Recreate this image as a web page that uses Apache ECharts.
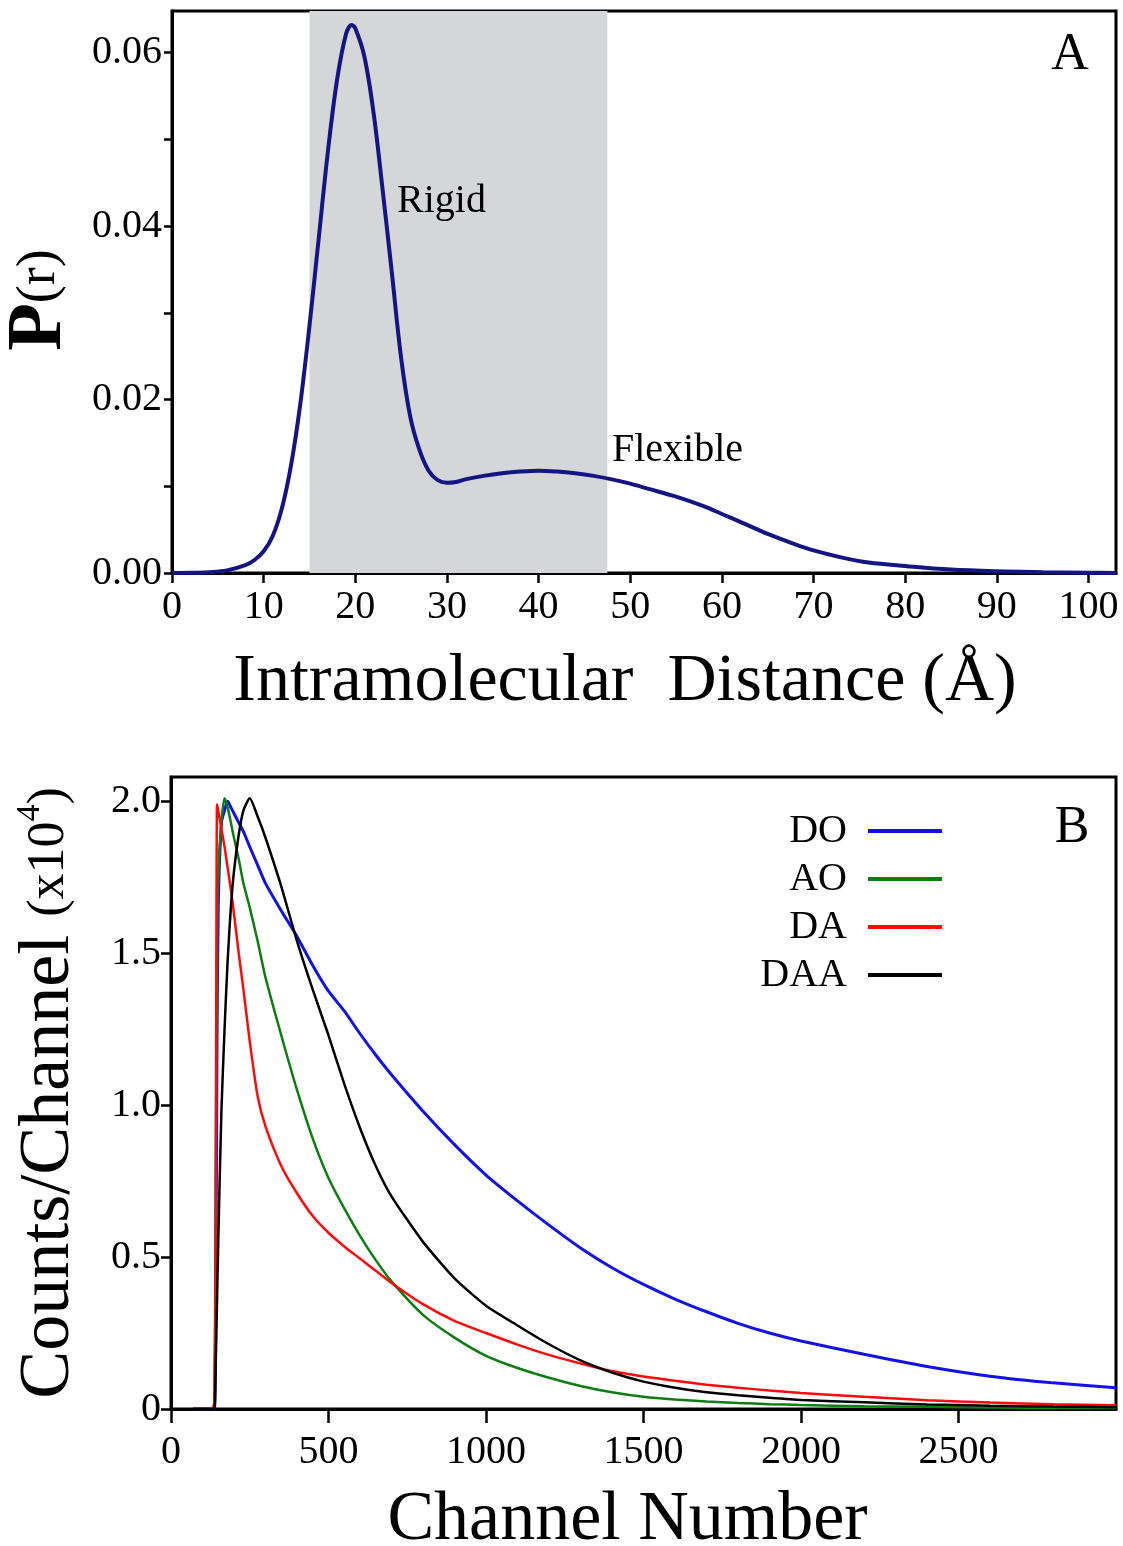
<!DOCTYPE html>
<html><head><meta charset="utf-8">
<script src="https://cdn.jsdelivr.net/npm/echarts@6/dist/echarts.min.js"></script>
<style>html,body{margin:0;padding:0;background:#fff}#c{width:1123px;height:1546px}</style>
</head><body><div id="c"></div>
<script>
// ---- Panel A data ----
const distance = [0,2,4,6,8,9,10,11,12,13,14,15,16,17,18,19,19.6,20,21,22,23,24,25,26,27,28,29,30,31,32,34,36,38,40,42,44,46,48,50,52,55,58,60,62,65,68,70,73,76,80,85,90,95,100,103];
const prob = [0,0.00002,0.0001,0.0003,0.0009,0.0015,0.0025,0.0043,0.0075,0.0125,0.0195,0.0285,0.0385,0.0485,0.0568,0.0622,0.0632,0.0628,0.0595,0.053,0.044,0.0345,0.0248,0.018,0.0142,0.0118,0.0107,0.0104,0.0105,0.0108,0.0112,0.0115,0.0117,0.0118,0.0117,0.0115,0.0112,0.0108,0.0103,0.0097,0.0088,0.0077,0.0068,0.0059,0.0045,0.0033,0.0026,0.0018,0.0012,0.0008,0.0004,0.0002,0.0001,0.00003,0.00001];
const rigidRange = [15, 47.5];
const distTicks = [0,10,20,30,40,50,60,70,80,90,100];
const probLabels = [0,0.02,0.04,0.06];
const probTicks = [0,0.01,0.02,0.03,0.04,0.05,0.06];

// ---- Panel B data ----
const channels = [70,130,138,142,146,150,160,170,180,190,200,215,230,250,275,300,350,400,450,500,550,600,650,700,800,900,1000,1100,1200,1300,1400,1500,1600,1700,1800,1900,2000,2200,2400,2600,2800,3000];
const DO  = [0,0,0,0.3,1.2,1.65,1.93,1.97,2.0,1.98,1.96,1.93,1.9,1.85,1.79,1.73,1.64,1.555,1.46,1.375,1.31,1.235,1.165,1.1,0.98,0.87,0.77,0.685,0.605,0.53,0.465,0.41,0.362,0.32,0.282,0.25,0.224,0.18,0.14,0.108,0.086,0.07];
const AO  = [0,0,0.02,0.8,1.5,1.75,1.93,2.01,1.98,1.93,1.88,1.81,1.73,1.65,1.54,1.42,1.23,1.05,0.89,0.76,0.66,0.57,0.49,0.42,0.31,0.235,0.175,0.135,0.103,0.076,0.055,0.04,0.031,0.025,0.02,0.016,0.013,0.009,0.007,0.005,0.004,0.003];
const DA  = [0,0,0.02,0.6,1.99,1.97,1.91,1.85,1.78,1.71,1.63,1.5,1.38,1.21,1.03,0.93,0.8,0.71,0.635,0.58,0.535,0.495,0.455,0.415,0.345,0.29,0.25,0.212,0.178,0.15,0.125,0.107,0.093,0.08,0.07,0.061,0.053,0.04,0.029,0.021,0.016,0.012];
const DAA = [0,0,0,0.15,0.35,0.55,0.98,1.25,1.48,1.65,1.77,1.89,1.97,2.01,1.95,1.88,1.72,1.54,1.38,1.23,1.07,0.925,0.8,0.70,0.55,0.43,0.34,0.275,0.213,0.16,0.12,0.09,0.07,0.055,0.045,0.037,0.03,0.022,0.015,0.011,0.008,0.006];
const channelTicks = [0,500,1000,1500,2000,2500];
const countTicks = [0,0.5,1.0,1.5,2.0];
const seriesNames = ['DO','AO','DA','DAA'];
const seriesData = [DO, AO, DA, DAA];
const seriesColors = ['#1212e6','#0d7d12','#ff0a0a','#000000'];

const FF = '"Liberation Serif", "Times New Roman", serif';
const chart = echarts.init(document.getElementById('c'), null, {renderer:'canvas'});

const axisCommon = {
  axisLine: {show:true, onZero:false, lineStyle:{color:'#000', width:3}},
  splitLine: {show:false},
};

const option = {
  backgroundColor: '#fff',
  animation: false,
  textStyle: {fontFamily: FF},
  grid: [
    {left:172, top:11, width:944, height:562, show:true, borderColor:'#000', borderWidth:3, containLabel:false, outerBoundsMode:'none'},
    {left:171, top:777, width:945, height:632, show:true, borderColor:'#000', borderWidth:3, containLabel:false, outerBoundsMode:'none'}
  ],
  xAxis: [
    Object.assign({}, axisCommon, {
      type:'value', gridIndex:0, min:0, max:103,
      axisTick:{show:true, length:10, lineStyle:{color:'#000', width:2.5}, customValues: distTicks},
      axisLabel:{color:'#000', fontSize:40, fontFamily:FF, margin:14, customValues: distTicks,
        formatter: v => String(v)},
      name:'Intramolecular  Distance (Å)', nameLocation:'middle', nameGap:75,
      nameTextStyle:{fontSize:68, fontFamily:FF, color:'#000', padding:[0,38,0,0]}
    }),
    Object.assign({}, axisCommon, {
      type:'value', gridIndex:1, min:0, max:3000,
      axisTick:{show:true, length:14, lineStyle:{color:'#000', width:2.5}, customValues: channelTicks},
      axisLabel:{color:'#000', fontSize:40, fontFamily:FF, margin:23, customValues: channelTicks,
        formatter: v => String(v)},
      name:'Channel Number', nameLocation:'middle', nameGap:77,
      nameTextStyle:{fontSize:70, fontFamily:FF, color:'#000', padding:[0,32,0,0]}
    })
  ],
  yAxis: [
    Object.assign({}, axisCommon, {
      type:'value', gridIndex:0, min:0, max:0.0648,
      axisTick:{show:true, length:8, lineStyle:{color:'#000', width:2.5}, customValues: probTicks},
      axisLabel:{color:'#000', fontSize:40, fontFamily:FF, margin:10, customValues: probLabels,
        formatter: v => v.toFixed(2)},
      name:'{p|P}{r|(r)}', nameLocation:'middle', nameGap:93, nameRotate:90,
      nameTextStyle:{color:'#000', padding:[0,16,0,0],
        rich:{p:{fontSize:78, fontWeight:'bold', fontFamily:FF, color:'#000'},
              r:{fontSize:54, fontFamily:FF, color:'#000'}}}
    }),
    Object.assign({}, axisCommon, {
      type:'value', gridIndex:1, min:0, max:2.08,
      axisTick:{show:true, length:10, lineStyle:{color:'#000', width:2.5}, customValues: countTicks},
      axisLabel:{color:'#000', fontSize:40, fontFamily:FF, margin:10, customValues: countTicks,
        formatter: v => v === 0 ? '0' : v.toFixed(1)},
      name:'{a|Counts/Channel }{b|(x10}{s|4}{b|)}', nameLocation:'middle', nameGap:86, nameRotate:90,
      nameTextStyle:{color:'#000',
        rich:{a:{fontSize:72, fontFamily:FF, color:'#000'},
              b:{fontSize:52, fontFamily:FF, color:'#000'},
              s:{fontSize:34, fontFamily:FF, color:'#000', verticalAlign:'top', padding:[0,0,30,0]}}}
    })
  ],
  legend: {
    data: seriesNames, orient:'vertical', right:176, top:806, align:'right',
    icon:'rect', itemWidth:74, itemHeight:4, itemGap:8,
    textStyle:{fontSize:40, lineHeight:40, fontFamily:FF, color:'#000', padding:[0,16,0,0]}
  },
  graphic: [
    {type:'text', z:100, x:1070, y:55, style:{text:'A', fontSize:52, fontFamily:FF, fill:'#000', align:'center', verticalAlign:'middle'}},
    {type:'text', z:100, x:1072, y:828, style:{text:'B', fontSize:52, fontFamily:FF, fill:'#000', align:'center', verticalAlign:'middle'}},
    {type:'text', z:100, x:397, y:201, style:{text:'Rigid', fontSize:40, fontFamily:FF, fill:'#000', align:'left', verticalAlign:'middle'}},
    {type:'text', z:100, x:612, y:450, style:{text:'Flexible', fontSize:40, fontFamily:FF, fill:'#000', align:'left', verticalAlign:'middle'}}
  ],
  series: [
    {
      type:'line', name:'P(r)', xAxisIndex:0, yAxisIndex:0,
      data: distance.map((d,i)=>[d, prob[i]]),
      showSymbol:false, symbol:'none', smooth:0.35,
      lineStyle:{color:'#141482', width:4},
      markArea:{silent:true, itemStyle:{color:'#d5d6d8'},
        data:[[{xAxis:rigidRange[0]},{xAxis:rigidRange[1]}]]},
      z:3
    }
  ].concat(seriesNames.map((n,k)=>({
    type:'line', name:n, xAxisIndex:1, yAxisIndex:1,
    data: channels.map((c,i)=>[c, seriesData[k][i]]),
    showSymbol:false, symbol:'none', smooth:0.2,
    color: seriesColors[k],
    lineStyle:{color:seriesColors[k], width: k===0 ? 3 : 2.5},
    z: 3 + k
  })))
};
chart.setOption(option);
</script>
</body></html>
